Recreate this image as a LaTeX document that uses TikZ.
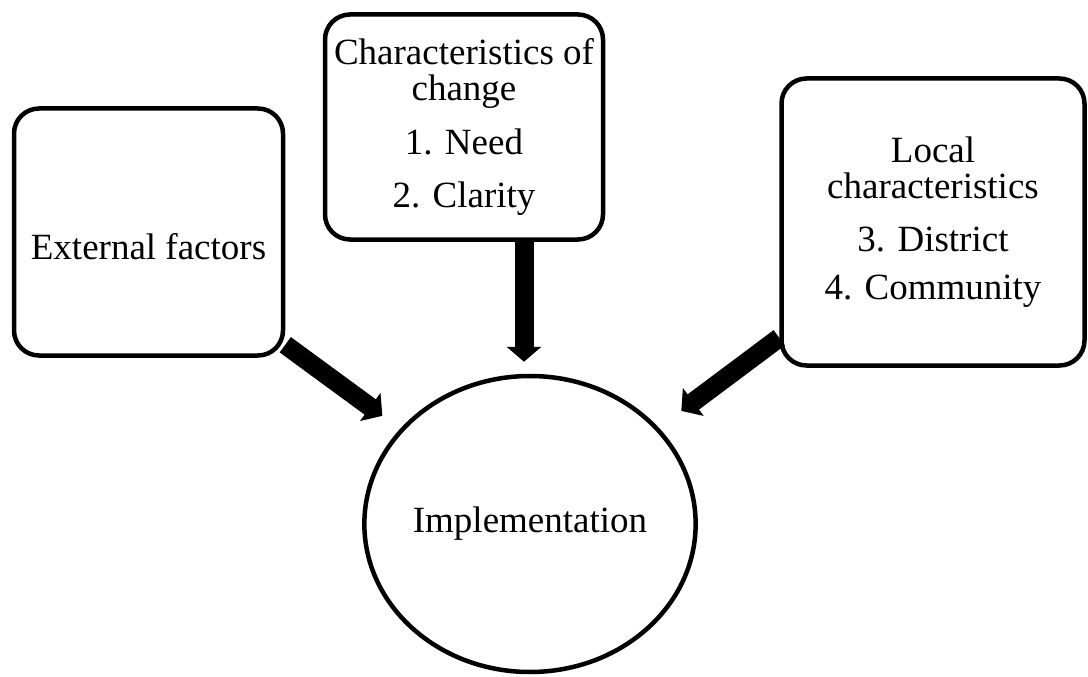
\documentclass[tikz,border=0pt]{standalone}
\usepackage{xcolor}
\usepackage{tikz}
\usepackage{fontspec}
\setmainfont{Liberation Serif}
\usetikzlibrary{shapes,arrows.meta,positioning,calc}

\begin{document}
\begin{tikzpicture}[
    x=1pt, y=1pt,
    box/.style={rectangle, draw, line width=4.5pt, rounded corners=25pt, align=center, font=\fontsize{37}{36}\selectfont},
    goal/.style={ellipse, draw, line width=4.5pt, inner sep=0pt, font=\fontsize{37}{36}\selectfont},
    bigarrow/.style={-{Triangle[length=15pt, width=34pt]}, line width=19pt}
]

% page
\fill[white] (0,0) rectangle (1088,-677);
\useasboundingbox (0,0) rectangle (1088,-677);

% Implementation
\node[goal, minimum width=313pt, minimum height=296pt] (impl) at (530,-524) {Implementation};

% Factors
\node[box, minimum width=278pt, minimum height=225pt, above=132pt of impl, xshift=-66pt] (change) {Characteristics of\\change\\[18pt]1. Need\\[17pt]2. Clarity};
\node[box, minimum width=269pt, minimum height=247pt, text height=62pt, text depth=8pt, above=16pt of impl, xshift=-381.5pt] (external) {External factors};
\node[box, minimum width=303pt, minimum height=287pt, above=6pt of impl, xshift=403pt] (local) {Local\\characteristics\\[17pt]3. District\\[12pt]4. Community};

% Arrows
\draw[bigarrow, shorten >=12pt] ([xshift=60pt]change.south) -- ([xshift=-6pt]impl.north);
\draw[bigarrow, shorten >=22pt] ([yshift=13pt]external.south east) -- (impl);
\draw[bigarrow, shorten >=28pt] ([yshift=30pt]local.south west) -- (impl);

\end{tikzpicture}
\end{document}
